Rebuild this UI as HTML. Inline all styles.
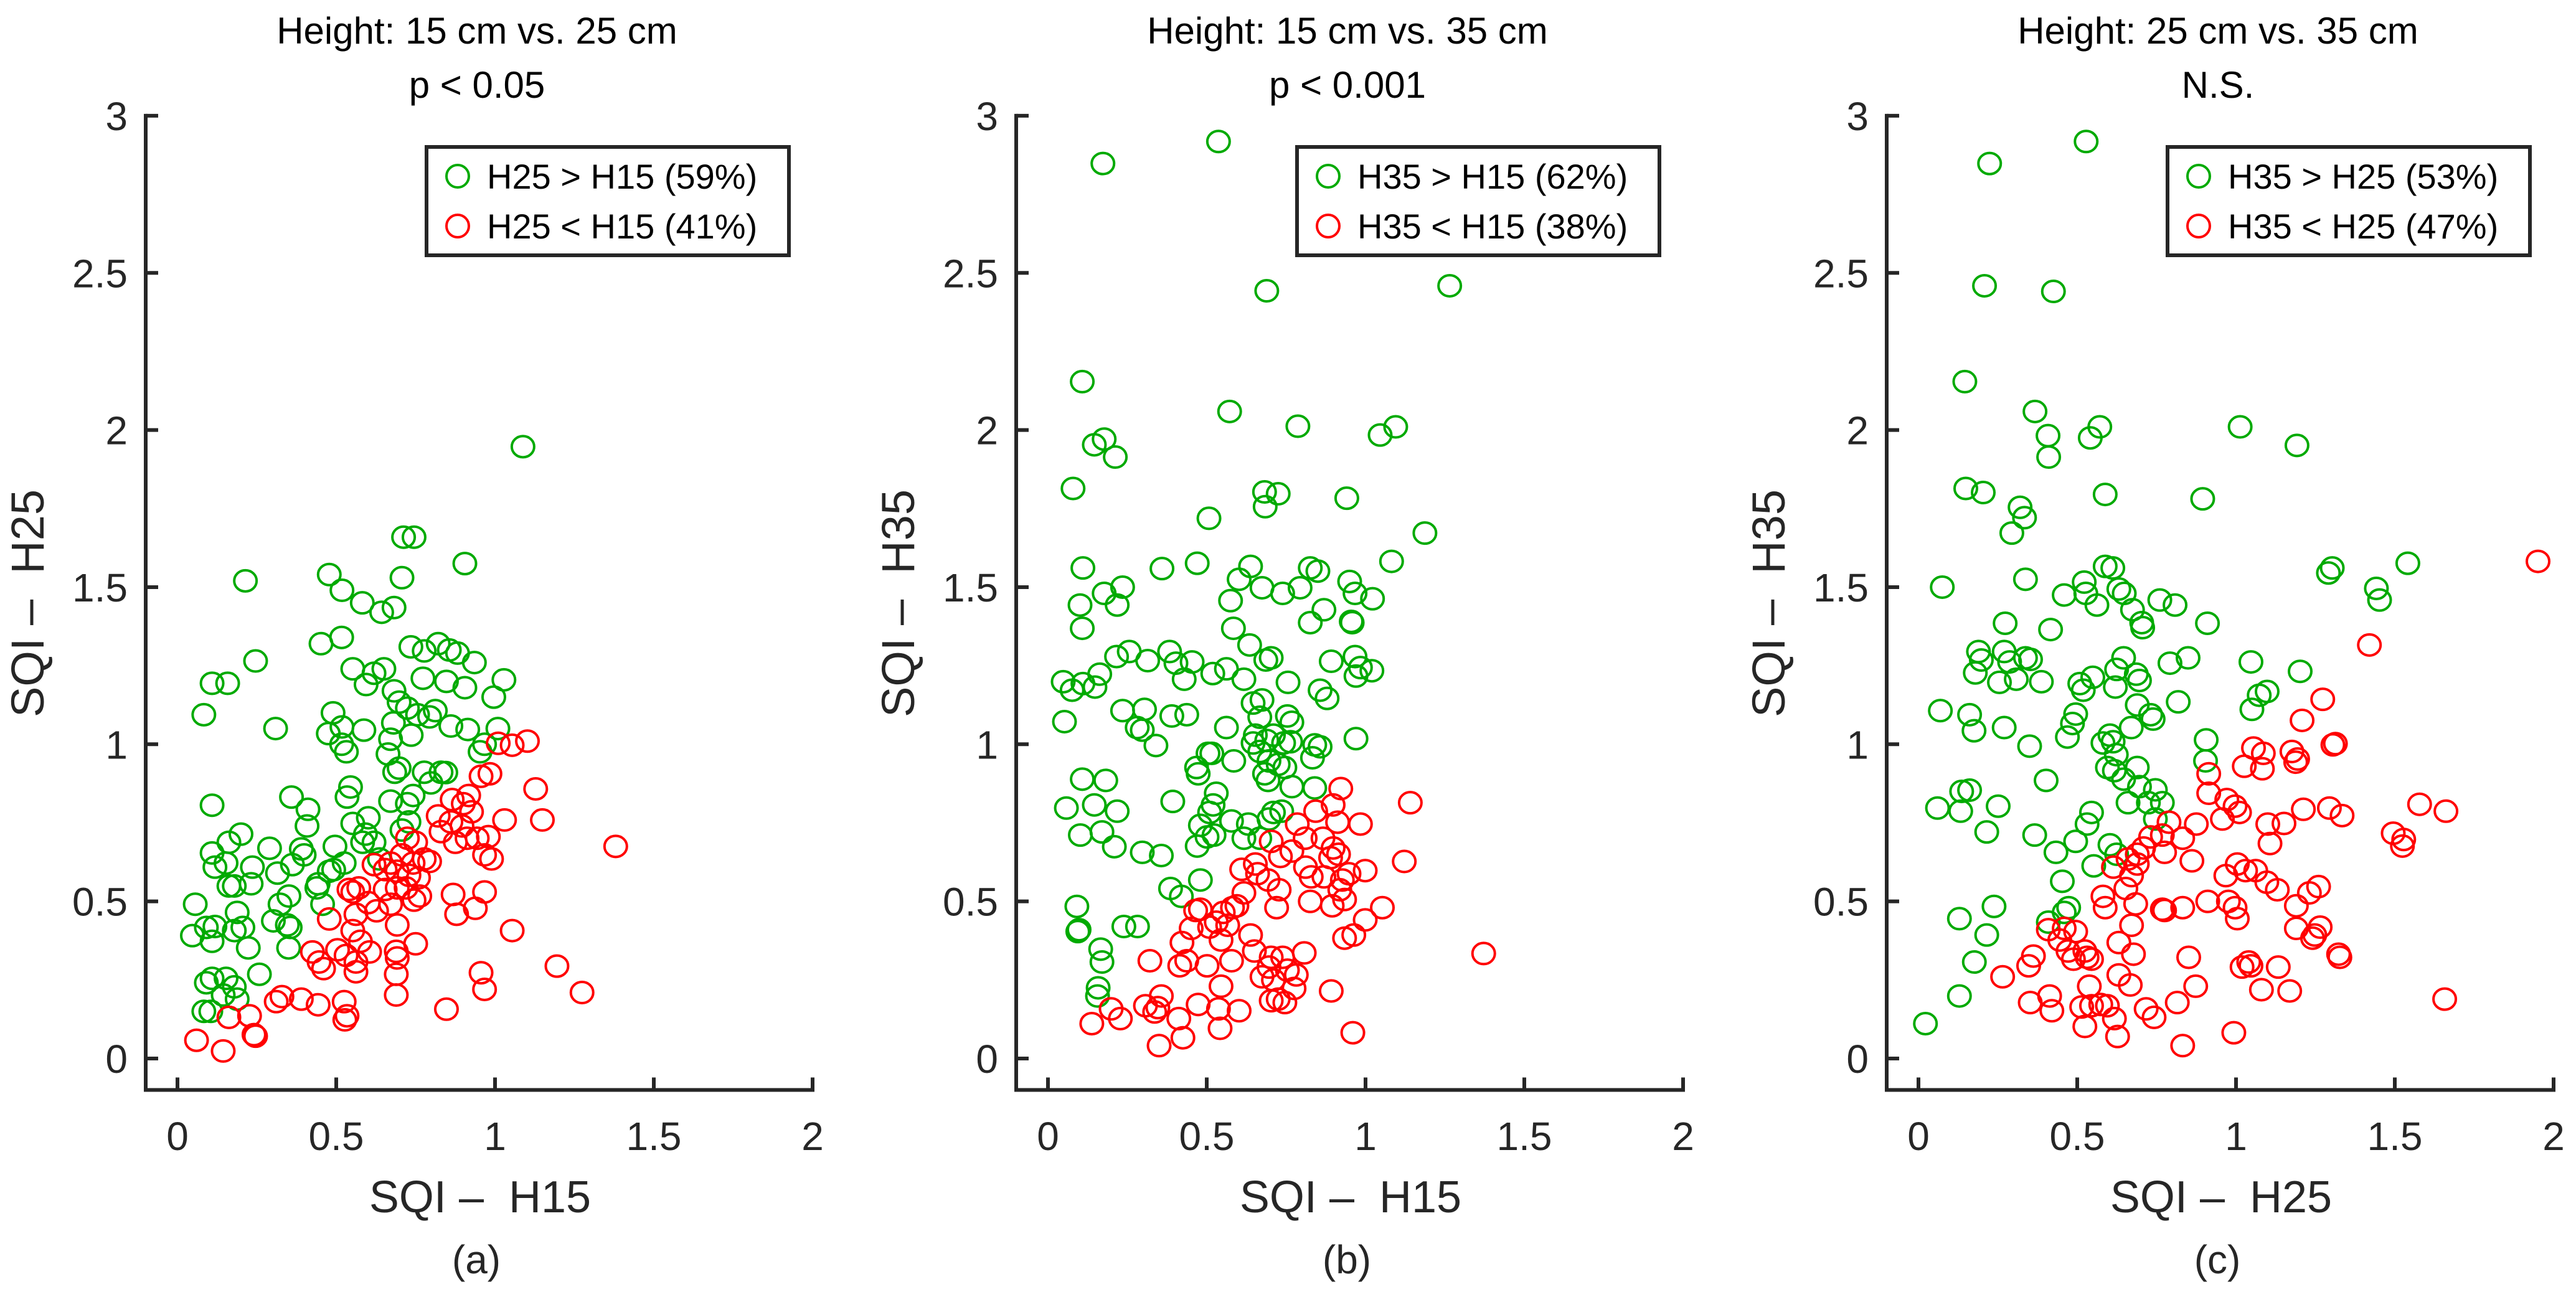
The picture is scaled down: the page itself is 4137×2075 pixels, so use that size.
<!DOCTYPE html>
<html><head><meta charset="utf-8"><style>
html,body{margin:0;padding:0;background:#fff;}
svg{display:block;font-family:"Liberation Sans",Arial,sans-serif;}
</style></head><body>
<svg id="fig" width="4137" height="2075" viewBox="0 0 4137 2075" xmlns="http://www.w3.org/2000/svg">
<rect width="4137" height="2075" fill="#fff"/>
</svg>
<script>
const xTicks = [0, 0.5, 1, 1.5, 2];
const yTicks = [0, 0.5, 1, 1.5, 2, 2.5, 3];
const xTickLabels = ["0", "0.5", "1", "1.5", "2"];
const yTickLabels = ["0", "0.5", "1", "1.5", "2", "2.5", "3"];
const panelTitles = ["Height: 15 cm vs. 25 cm", "Height: 15 cm vs. 35 cm", "Height: 25 cm vs. 35 cm"];
const panelPvals = ["p < 0.05", "p < 0.001", "N.S."];
const panelXLabels = ["SQI \u2013\u00a0 H15", "SQI \u2013\u00a0 H15", "SQI \u2013\u00a0 H25"];
const panelYLabels = ["SQI \u2013\u00a0 H25", "SQI \u2013\u00a0 H35", "SQI \u2013\u00a0 H35"];
const panelLetters = ["(a)", "(b)", "(c)"];
const legendGreen = ["H25 > H15 (59%)", "H35 > H15 (62%)", "H35 > H25 (53%)"];
const legendRed = ["H25 < H15 (41%)", "H35 < H15 (38%)", "H35 < H25 (47%)"];

const aGreen = [[1.088,1.947],[0.712,1.659],[0.745,1.659],[0.905,1.575],[0.214,1.52],[0.478,1.54],[0.518,1.49],[0.582,1.45],[0.643,1.42],[0.682,1.435],[0.707,1.53],[0.452,1.32],[0.517,1.34],[0.246,1.265],[0.552,1.24],[0.619,1.226],[0.65,1.24],[0.594,1.19],[0.735,1.31],[0.777,1.297],[0.821,1.32],[0.856,1.30],[0.882,1.29],[0.935,1.26],[0.773,1.21],[0.847,1.20],[0.905,1.18],[1.028,1.205],[0.996,1.15],[0.109,1.194],[0.158,1.194],[0.083,1.094],[0.309,1.05],[0.49,1.10],[0.518,1.055],[0.475,1.034],[0.517,1.0],[0.532,0.976],[0.587,1.045],[0.682,1.17],[0.698,1.134],[0.724,1.115],[0.756,1.094],[0.794,1.087],[0.812,1.107],[0.68,1.068],[0.671,1.016],[0.736,1.029],[0.663,0.969],[0.698,0.924],[0.684,0.911],[0.777,0.911],[0.83,0.911],[0.845,0.91],[0.861,1.058],[0.914,1.047],[0.953,0.976],[0.967,1.0],[1.009,1.05],[0.109,0.806],[0.545,0.864],[0.534,0.832],[0.359,0.832],[0.411,0.793],[0.408,0.74],[0.671,0.819],[0.724,0.811],[0.742,0.837],[0.798,0.877],[0.729,0.753],[0.707,0.727],[0.2,0.714],[0.162,0.688],[0.109,0.654],[0.118,0.609],[0.153,0.622],[0.236,0.609],[0.232,0.556],[0.29,0.669],[0.315,0.59],[0.362,0.617],[0.399,0.648],[0.39,0.667],[0.496,0.675],[0.552,0.748],[0.601,0.766],[0.592,0.714],[0.619,0.688],[0.583,0.688],[0.636,0.635],[0.492,0.601],[0.478,0.596],[0.525,0.622],[0.162,0.549],[0.179,0.549],[0.188,0.465],[0.056,0.491],[0.047,0.391],[0.091,0.417],[0.118,0.42],[0.109,0.373],[0.179,0.407],[0.206,0.417],[0.223,0.352],[0.258,0.268],[0.302,0.438],[0.323,0.491],[0.351,0.517],[0.346,0.425],[0.355,0.417],[0.35,0.352],[0.439,0.543],[0.457,0.491],[0.443,0.556],[0.091,0.241],[0.109,0.255],[0.153,0.255],[0.179,0.228],[0.144,0.202],[0.188,0.189],[0.083,0.15],[0.105,0.15]];
const aRed = [[1.38,0.675],[1.01,1.003],[1.054,0.997],[1.102,1.01],[0.956,0.898],[0.984,0.906],[1.128,0.858],[1.149,0.759],[1.03,0.759],[0.917,0.837],[0.9,0.811],[0.865,0.824],[0.821,0.772],[0.926,0.785],[0.896,0.74],[0.861,0.753],[0.83,0.722],[0.912,0.701],[0.944,0.701],[0.875,0.688],[0.979,0.706],[0.967,0.648],[0.989,0.635],[0.967,0.53],[0.868,0.522],[0.938,0.478],[0.879,0.459],[1.054,0.407],[1.195,0.294],[1.274,0.21],[0.956,0.273],[0.967,0.22],[0.847,0.157],[0.724,0.701],[0.75,0.688],[0.707,0.648],[0.742,0.622],[0.777,0.635],[0.671,0.622],[0.654,0.601],[0.619,0.617],[0.692,0.596],[0.729,0.583],[0.759,0.575],[0.794,0.627],[0.72,0.543],[0.763,0.517],[0.745,0.504],[0.692,0.543],[0.654,0.538],[0.671,0.491],[0.601,0.496],[0.571,0.543],[0.54,0.538],[0.552,0.53],[0.478,0.444],[0.562,0.459],[0.627,0.47],[0.692,0.425],[0.75,0.365],[0.552,0.407],[0.576,0.373],[0.605,0.339],[0.689,0.341],[0.692,0.32],[0.562,0.307],[0.562,0.276],[0.689,0.268],[0.689,0.202],[0.531,0.328],[0.504,0.346],[0.425,0.339],[0.446,0.307],[0.46,0.286],[0.311,0.181],[0.329,0.197],[0.39,0.189],[0.443,0.171],[0.525,0.181],[0.534,0.136],[0.527,0.123],[0.162,0.131],[0.227,0.136],[0.241,0.076],[0.246,0.071],[0.06,0.058],[0.144,0.024]];

const bGreen = [[0.537,2.918],[0.173,2.848],[0.689,2.443],[1.265,2.459],[0.108,2.154],[0.572,2.059],[0.787,2.012],[1.046,1.984],[1.095,2.01],[0.146,1.953],[0.177,1.971],[0.212,1.914],[0.079,1.814],[0.682,1.803],[0.725,1.797],[0.684,1.756],[0.941,1.783],[0.507,1.719],[1.187,1.672],[0.11,1.561],[0.359,1.559],[0.47,1.576],[0.638,1.566],[0.602,1.525],[0.674,1.498],[0.739,1.48],[0.794,1.498],[0.826,1.561],[0.85,1.551],[0.95,1.518],[0.967,1.48],[1.082,1.582],[1.022,1.463],[0.177,1.48],[0.235,1.5],[0.218,1.443],[0.101,1.443],[0.108,1.369],[0.575,1.457],[0.584,1.369],[0.869,1.428],[0.826,1.387],[0.958,1.387],[0.955,1.391],[0.635,1.316],[0.686,1.268],[0.703,1.275],[0.892,1.264],[0.967,1.279],[0.97,1.217],[0.984,1.244],[1.02,1.234],[0.216,1.279],[0.256,1.295],[0.314,1.266],[0.383,1.295],[0.403,1.258],[0.454,1.262],[0.429,1.207],[0.519,1.225],[0.562,1.24],[0.617,1.207],[0.756,1.197],[0.857,1.172],[0.879,1.146],[0.048,1.199],[0.076,1.172],[0.11,1.193],[0.148,1.182],[0.163,1.223],[0.052,1.072],[0.235,1.107],[0.304,1.111],[0.281,1.053],[0.297,1.045],[0.34,0.996],[0.39,1.09],[0.437,1.094],[0.646,1.131],[0.674,1.141],[0.667,1.086],[0.754,1.09],[0.768,1.07],[0.562,1.053],[0.653,1.029],[0.646,1.004],[0.689,1.012],[0.71,1.029],[0.742,1.004],[0.764,1.008],[0.667,0.977],[0.696,0.947],[0.725,0.936],[0.746,0.926],[0.682,0.906],[0.693,0.885],[0.84,0.998],[0.857,0.992],[0.833,0.957],[0.97,1.018],[0.768,0.865],[0.84,0.861],[0.504,0.971],[0.516,0.971],[0.468,0.926],[0.473,0.906],[0.585,0.947],[0.108,0.889],[0.182,0.885],[0.058,0.797],[0.146,0.807],[0.218,0.787],[0.102,0.711],[0.17,0.721],[0.209,0.674],[0.297,0.656],[0.357,0.646],[0.393,0.818],[0.53,0.844],[0.52,0.807],[0.509,0.783],[0.48,0.742],[0.501,0.705],[0.523,0.711],[0.47,0.676],[0.578,0.756],[0.631,0.746],[0.617,0.701],[0.667,0.701],[0.71,0.783],[0.736,0.787],[0.696,0.762],[0.48,0.568],[0.386,0.541],[0.42,0.516],[0.091,0.484],[0.098,0.41],[0.094,0.404],[0.239,0.42],[0.282,0.42],[0.166,0.348],[0.17,0.307],[0.158,0.225],[0.156,0.199]];
const bRed = [[1.372,0.334],[1.141,0.814],[1.122,0.627],[0.922,0.859],[0.898,0.807],[0.843,0.787],[0.785,0.746],[0.81,0.701],[0.912,0.752],[0.984,0.746],[0.866,0.701],[0.898,0.67],[0.915,0.65],[0.89,0.639],[0.768,0.66],[0.811,0.609],[0.829,0.578],[0.869,0.578],[0.927,0.568],[0.948,0.588],[0.999,0.598],[0.919,0.537],[0.934,0.506],[0.895,0.486],[0.826,0.5],[1.053,0.48],[0.999,0.441],[0.963,0.393],[0.934,0.383],[0.703,0.691],[0.732,0.643],[0.653,0.619],[0.61,0.602],[0.66,0.588],[0.693,0.568],[0.728,0.537],[0.72,0.48],[0.617,0.527],[0.581,0.48],[0.552,0.465],[0.595,0.486],[0.48,0.475],[0.465,0.471],[0.53,0.434],[0.566,0.424],[0.451,0.414],[0.509,0.418],[0.638,0.393],[0.545,0.377],[0.422,0.369],[0.437,0.311],[0.415,0.295],[0.501,0.295],[0.578,0.311],[0.65,0.342],[0.703,0.322],[0.739,0.322],[0.807,0.336],[0.696,0.291],[0.71,0.25],[0.754,0.281],[0.782,0.266],[0.775,0.223],[0.674,0.26],[0.725,0.189],[0.746,0.178],[0.703,0.184],[0.892,0.215],[0.96,0.082],[0.545,0.23],[0.537,0.158],[0.602,0.152],[0.473,0.172],[0.542,0.096],[0.412,0.127],[0.425,0.066],[0.35,0.041],[0.321,0.311],[0.357,0.199],[0.307,0.168],[0.336,0.148],[0.346,0.162],[0.199,0.158],[0.228,0.127],[0.138,0.111]];

const cGreen = [[0.528,2.918],[0.224,2.848],[0.208,2.459],[0.425,2.441],[0.146,2.154],[0.367,2.059],[0.408,1.982],[0.41,1.914],[0.541,1.975],[0.571,2.01],[1.013,2.01],[1.192,1.951],[0.149,1.814],[0.204,1.801],[0.588,1.795],[0.895,1.781],[0.32,1.754],[0.334,1.721],[0.294,1.672],[0.075,1.5],[0.337,1.525],[0.459,1.475],[0.522,1.516],[0.527,1.48],[0.562,1.443],[0.588,1.566],[0.612,1.561],[0.631,1.494],[0.648,1.48],[0.674,1.428],[0.703,1.387],[0.706,1.371],[0.76,1.459],[0.808,1.443],[0.91,1.385],[1.291,1.545],[1.303,1.561],[1.442,1.496],[1.452,1.459],[1.541,1.576],[0.273,1.385],[0.416,1.365],[0.189,1.295],[0.198,1.268],[0.179,1.227],[0.27,1.295],[0.287,1.262],[0.255,1.197],[0.308,1.207],[0.337,1.275],[0.353,1.27],[0.387,1.199],[0.646,1.275],[0.624,1.238],[0.686,1.223],[0.696,1.203],[0.62,1.182],[0.508,1.193],[0.519,1.172],[0.549,1.213],[0.792,1.258],[0.849,1.275],[1.047,1.262],[1.202,1.232],[1.073,1.156],[1.098,1.168],[1.05,1.111],[0.818,1.135],[0.689,1.125],[0.739,1.08],[0.731,1.094],[0.069,1.107],[0.161,1.094],[0.175,1.043],[0.27,1.053],[0.35,0.994],[0.495,1.096],[0.485,1.066],[0.469,1.023],[0.67,1.053],[0.603,1.029],[0.613,1.008],[0.581,1.004],[0.623,0.967],[0.595,0.926],[0.617,0.916],[0.689,0.926],[0.646,0.889],[0.696,0.865],[0.746,0.855],[0.66,0.814],[0.724,0.814],[0.768,0.814],[0.746,0.762],[0.906,1.014],[0.904,0.947],[0.402,0.885],[0.136,0.85],[0.161,0.854],[0.06,0.797],[0.133,0.787],[0.251,0.803],[0.215,0.721],[0.366,0.711],[0.433,0.656],[0.495,0.691],[0.531,0.746],[0.545,0.783],[0.552,0.613],[0.603,0.68],[0.624,0.65],[0.453,0.564],[0.459,0.465],[0.473,0.48],[0.409,0.434],[0.238,0.484],[0.129,0.445],[0.215,0.393],[0.176,0.307],[0.129,0.199],[0.022,0.111]];
const cRed = [[1.951,1.582],[1.42,1.316],[1.273,1.143],[1.208,1.076],[1.313,1.002],[1.305,0.998],[1.055,0.988],[1.086,0.971],[1.026,0.93],[1.083,0.922],[1.176,0.977],[1.194,0.953],[1.188,0.943],[0.914,0.906],[0.914,0.844],[0.971,0.824],[0.997,0.803],[1.011,0.783],[0.957,0.762],[0.875,0.746],[1.1,0.746],[1.151,0.748],[1.212,0.793],[1.294,0.797],[1.334,0.773],[1.578,0.809],[1.661,0.787],[1.495,0.717],[1.528,0.697],[1.524,0.676],[1.107,0.684],[0.789,0.752],[0.768,0.711],[0.832,0.701],[0.861,0.629],[0.775,0.656],[0.731,0.705],[0.709,0.67],[0.689,0.65],[0.66,0.635],[0.614,0.609],[0.689,0.619],[0.671,0.582],[0.653,0.541],[0.581,0.516],[0.588,0.48],[0.684,0.492],[0.768,0.475],[0.775,0.471],[0.832,0.48],[0.911,0.5],[0.976,0.5],[0.997,0.48],[1.004,0.445],[0.968,0.582],[1.004,0.619],[1.03,0.598],[1.062,0.598],[1.097,0.561],[1.13,0.537],[1.19,0.486],[1.231,0.527],[1.26,0.547],[1.19,0.414],[1.265,0.418],[1.241,0.383],[1.248,0.393],[1.323,0.332],[1.327,0.322],[0.671,0.424],[0.631,0.369],[0.677,0.332],[0.631,0.266],[0.667,0.234],[0.851,0.322],[0.873,0.23],[0.815,0.178],[0.717,0.158],[0.742,0.131],[0.627,0.07],[0.832,0.041],[0.993,0.082],[1.04,0.307],[1.019,0.291],[1.047,0.295],[1.133,0.291],[1.08,0.219],[1.169,0.215],[1.657,0.189],[0.409,0.41],[0.459,0.414],[0.495,0.404],[0.445,0.377],[0.471,0.342],[0.488,0.316],[0.524,0.342],[0.545,0.316],[0.531,0.322],[0.362,0.326],[0.347,0.295],[0.265,0.26],[0.352,0.178],[0.413,0.199],[0.42,0.152],[0.538,0.23],[0.514,0.164],[0.545,0.168],[0.574,0.172],[0.595,0.168],[0.617,0.127],[0.524,0.102]];

const greenSeries = [aGreen, bGreen, cGreen];
const redSeries = [aRed, bRed, cRed];

const NS = "http://www.w3.org/2000/svg";
const svg = document.getElementById("fig");
const AX = "#262626", GREEN = "#00aa00", RED = "#ff0000";
const panelOrigins = [285, 1683, 3081];
const XS = 510, YS = 504.7, Y0 = 1700;
const XMIN = -0.1, YMIN = -0.1;

function mk(tag, attrs, parent) {
  const e = document.createElementNS(NS, tag);
  for (const k in attrs) e.setAttribute(k, attrs[k]);
  (parent || svg).appendChild(e);
  return e;
}
function txt(s, attrs, parent) {
  const e = mk("text", attrs, parent);
  e.textContent = s;
  return e;
}

panelOrigins.forEach((x0, p) => {
  const sx = v => x0 + v * XS;
  const sy = v => Y0 - v * YS;
  const g = mk("g", {});
  
  

  const t1 = txt(panelTitles[p], {x: x0 + 481, y: 70, "text-anchor": "middle", "font-size": 60, fill: "#000"}, g);
  
  
  const t2 = txt(panelPvals[p], {x: x0 + 481, y: 157, "text-anchor": "middle", "font-size": 60, fill: "#000"}, g);
  
  

  const pts = mk("g", {fill: "none", "stroke-width": 4}, g);
  
  
  greenSeries[p].forEach(d => {
    const c = mk("ellipse", {cx: sx(d[0]), cy: sy(d[1]), rx: 18, ry: 17, stroke: GREEN}, pts);
    
    
  });
  redSeries[p].forEach(d => {
    const c = mk("ellipse", {cx: sx(d[0]), cy: sy(d[1]), rx: 18, ry: 17, stroke: RED}, pts);
    
    
  });

  const left = sx(XMIN), bottom = sy(YMIN);
  const xa = mk("line", {x1: left - 3, y1: bottom, x2: sx(2) + 3, y2: bottom, stroke: AX, "stroke-width": 6}, g);
  
  
  const ya = mk("line", {x1: left, y1: bottom + 3, x2: left, y2: sy(3) - 3, stroke: AX, "stroke-width": 6}, g);
  
  
  xTicks.forEach((v, i) => {
    mk("line", {x1: sx(v), y1: bottom, x2: sx(v), y2: bottom - 20, stroke: AX, "stroke-width": 6}, g);
    const t = txt(xTickLabels[i], {x: sx(v), y: 1847, "text-anchor": "middle", "font-size": 64, fill: AX}, g);
    
    
  });
  yTicks.forEach((v, i) => {
    mk("line", {x1: left, y1: sy(v), x2: left + 20, y2: sy(v), stroke: AX, "stroke-width": 6}, g);
    const t = txt(yTickLabels[i], {x: x0 - 80, y: sy(v) + 23, "text-anchor": "end", "font-size": 64, fill: AX}, g);
    
    
  });
  const xl = txt(panelXLabels[p], {x: x0 + 486, y: 1947, "text-anchor": "middle", "font-size": 72, fill: AX}, g);
  
  
  const yl = txt(panelYLabels[p], {x: 0, y: 0, "text-anchor": "middle", "font-size": 74, fill: AX, transform: `translate(${x0 - 215},969) rotate(-90)`}, g);
  
  
  const pl = txt(panelLetters[p], {x: x0 + 480, y: 2045, "text-anchor": "middle", "font-size": 64, fill: AX}, g);
  
  

  const lg = mk("g", {}, g);
  
  
  mk("rect", {x: x0 + 400, y: 236, width: 582, height: 174, fill: "#fff", stroke: AX, "stroke-width": 6}, lg);
  const e1 = mk("ellipse", {cx: x0 + 450, cy: 283, rx: 18, ry: 18, fill: "none", stroke: GREEN, "stroke-width": 4}, lg);
  
  
  const l1 = txt(legendGreen[p], {x: x0 + 497, y: 303, "font-size": 56, fill: "#000"}, lg);
  
  
  const e2 = mk("ellipse", {cx: x0 + 450, cy: 363, rx: 18, ry: 18, fill: "none", stroke: RED, "stroke-width": 4}, lg);
  
  
  const l2 = txt(legendRed[p], {x: x0 + 497, y: 383, "font-size": 56, fill: "#000"}, lg);
  
  
});
</script>
</body></html>
